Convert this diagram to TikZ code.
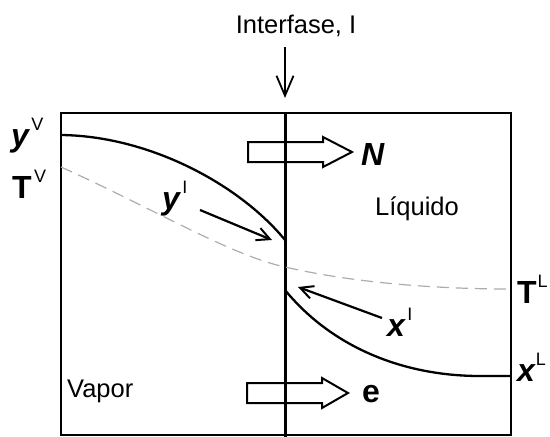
\documentclass[tikz,border=0pt]{standalone}
\usepackage{fontspec}
\setmainfont{Liberation Sans}
\usetikzlibrary{arrows.meta}
\newcommand\mysup[2][2.5pt]{\kern#1\raisebox{16pt}{\fontsize{18}{18}\selectfont\mdseries\upshape #2}}
\begin{document}
\begin{tikzpicture}[x=1pt,y=-1pt,
  txt/.style={inner sep=0pt,font=\fontsize{25.5}{25.5}\selectfont},
  lbl/.style={inner sep=0pt,anchor=base west,font=\fontsize{32}{32}\selectfont\bfseries},
  curve/.style={line width=2.3pt},
  temp/.style={line width=1.2pt,gray!65,dash pattern=on 12pt off 7pt},
  ptr/.style={line width=2.2pt,-{Straight Barb[length=13pt,width=13pt,line width=2pt]}},
  blockarrow/.style={line width=2pt,line join=miter}]
\useasboundingbox (0,0) rectangle (550,437);
% box and interface
\draw[line width=2.2pt] (61,113) rectangle (511,435);
\coordinate (itop) at (285,113);
\coordinate (ibot) at (285,437);
\draw[line width=3pt] (itop) -- (ibot);
\node[txt,anchor=base] (inter) at (296,33) {Interfase, I};
\coordinate (astart) at (285,47);
\coordinate (aend) at (285,98);
\draw[line width=1.8pt,-{Straight Barb[length=20pt,width=17pt,line width=1.8pt]}] (astart) -- (aend);
% concentration curves
\coordinate (yV) at (61,135);
\coordinate (yI) at (285,240);
\coordinate (xI) at (285,290);
\coordinate (xLa) at (480,376);
\coordinate (xL) at (511,376);
\draw[curve] (yV) .. controls (150,136) and (240,185) .. (yI);
\draw[curve] (xI) .. controls (330,345) and (400,376) .. (xLa) -- (xL);
% temperature
\coordinate (TV) at (61,167);
\coordinate (TI) at (285,267);
\coordinate (TL) at (511,289);
\draw[temp] (TV) .. controls (150,207) and (230,255) .. (TI) .. controls (350,282) and (430,289) .. (TL);
% labels
\node[lbl] (lyV) at (11,146) {\itshape y\mysup{V}};
\node[lbl] (lTV) at (12,198) {T\mysup{V}};
\node[lbl] (lyI) at (162,209) {\itshape y\mysup{I}};
\node[lbl] (lxI) at (387,336) {\itshape x\mysup{I}};
\node[lbl] (lTL) at (517,303) {T\mysup[1pt]{L}};
\node[lbl] (lxL) at (517,381) {\itshape x\mysup[1pt]{L}};
\node[lbl] (lN) at (361,165) {\itshape N};
\node[lbl] (le) at (362,402) {e};
\node[txt,anchor=base west] (vap) at (67,397) {Vapor};
\node[txt,anchor=base west] (liq) at (375,215) {Líquido};
% pointer arrows
\coordinate (p1s) at (200,210);
\coordinate (p1e) at (272,240);
\coordinate (p2s) at (382,318);
\coordinate (p2e) at (298,287);
\draw[ptr] (p1s) -- (p1e);
\draw[ptr] (p2s) -- (p2e);
% block arrows
\draw[blockarrow] (248,142) -- (323,142) -- (323,137) -- (352,152) -- (323,167) -- (323,162) -- (248,162) -- cycle;
\draw[blockarrow] (247,383) -- (322,383) -- (322,378) -- (348,393) -- (322,408) -- (322,403) -- (247,403) -- cycle;
\end{tikzpicture}
\end{document}
